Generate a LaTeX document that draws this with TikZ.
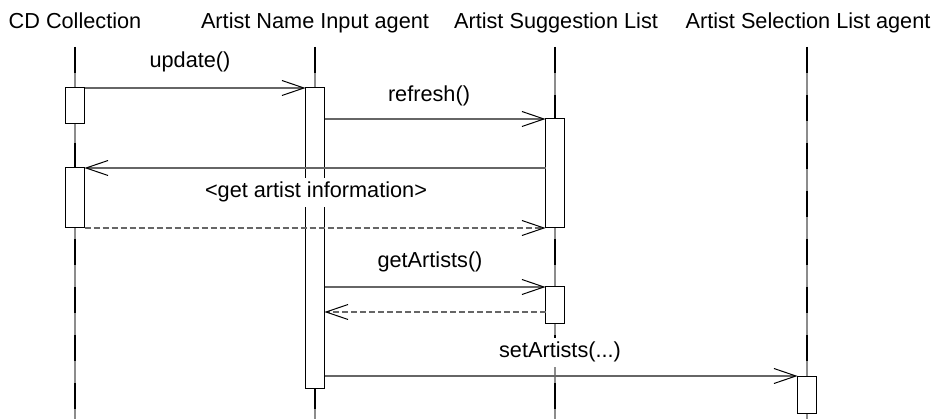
\documentclass[tikz,border=0pt]{standalone}
\usepackage{fontspec}
\setmainfont{Liberation Sans}
\usetikzlibrary{arrows.meta}
\begin{document}
\begin{tikzpicture}[x=1pt,y=-1pt,
  txt/.style={font=\fontsize{21.7}{26}\selectfont},
  head/.style={txt, anchor=base, inner sep=0pt},
  lbl/.style={txt, anchor=base, inner sep=4pt, text height=16pt, text depth=5pt, fill=white},
  lifebg/.style={draw=black!45, line width=1.6pt},
  lifefg/.style={draw=black, line width=1.6pt, dash pattern=on 26pt off 22pt},
  act/.style={draw=black, line width=1pt, fill=white, minimum width=19pt, inner sep=0pt, outer sep=0pt},
  msg/.style={draw=black!60, line width=1.2pt, -{Straight Barb[length=22pt,width=15pt,line width=1pt,color=black]}},
  ret/.style={msg, dash pattern=on 6pt off 3pt},
]
\useasboundingbox (0,0) rectangle (934,419);

% participants
\node[head] (cd) at (75,29) {CD Collection};
\node[head] (in) at (315,29) {Artist Name Input agent};
\node[head] (sg) at (556,29) {Artist Suggestion List};
\node[head] (sl) at (808,29) {Artist Selection List agent};

% lifelines
\foreach \n/\x in {cd/75, in/315, sg/555, sl/807}{
  \coordinate (\n Top) at (\x,47);
  \coordinate (\n Bot) at (\x,419);
  \draw[lifebg] (\n Top) -- (\n Bot);
  \draw[lifefg] (\n Top) -- (\n Bot);
}

% activation bars
\node[act, minimum height=36pt]  (cdA1) at (75,106) {};
\node[act, minimum height=60pt]  (cdA2) at (75,198) {};
\node[act, minimum height=300pt] (inA)  at (315,238) {};
\node[act, minimum height=109pt] (sgA1) at (555,173.5) {};
\node[act, minimum height=37pt]  (sgA2) at (555,305.5) {};
\node[act, minimum height=37pt]  (slA)  at (807,394.5) {};
\coordinate (retY) at (0,312);

% messages
\draw[msg] (cdA1.north east) -- (inA.north west);
\draw[msg] (inA.east |- sgA1.north) -- (sgA1.north west);
\draw[msg] (sgA1.west |- cdA2.north) -- (cdA2.north east);
\draw[ret] (cdA2.south east) -- (sgA1.south west);
\draw[msg] (inA.east |- sgA2.north) -- (sgA2.north west);
\draw[ret] (sgA2.west |- retY) -- (inA.east |- retY);
\draw[msg] (inA.east |- slA.north) -- (slA.north west);

% message labels
\node[lbl] (lUpd) at (190,68)  {update()};
\node[lbl] (lRef) at (429,102) {refresh()};
\node[lbl] (lGet) at (316,198) {<get artist information>};
\node[lbl] (lArt) at (430,268) {getArtists()};
\node[lbl] (lSet) at (560,358) {setArtists(...)};
\end{tikzpicture}
\end{document}
